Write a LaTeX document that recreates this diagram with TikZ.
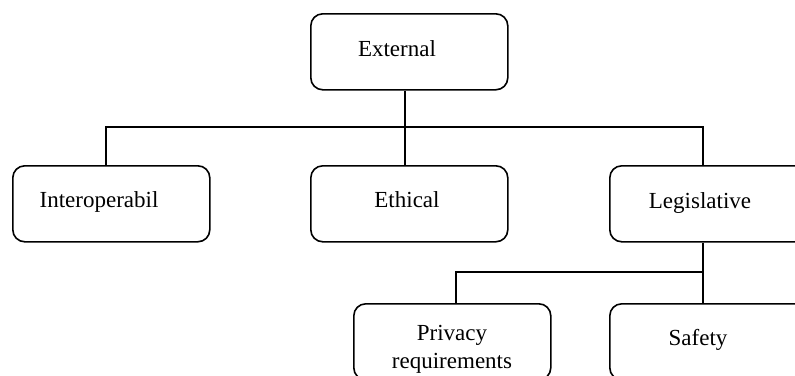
\documentclass[tikz,border=0pt]{standalone}
\usepackage{fontspec}
\setmainfont{Liberation Serif}
\begin{document}
\begin{tikzpicture}[x=1pt,y=-1pt,
  box/.style={draw, line width=1.6pt, rounded corners=12pt, minimum width=197pt, minimum height=76pt, inner sep=0pt, anchor=north west},
  lbl/.style={font=\fontsize{23}{28}\selectfont, anchor=base, inner sep=0pt},
  conn/.style={line width=1.6pt}]
\useasboundingbox (0,0) rectangle (795,375);
\clip (0,0) rectangle (795,375);
% boxes
\node[box] (ext) at (310,13) {};
\node[box] (int) at (12,165) {};
\node[box] (eth) at (310,165) {};
\node[box] (leg) at (609,165) {};
\node[box] (pri) at (353,303) {};
\node[box] (saf) at (609,303) {};
% texts
\node[lbl] (extt) at (397,56) {External};
\node[lbl] (intt) at (99,207) {Interoperabil};
\node[lbl] (etht) at (407,207) {Ethical};
\node[lbl] (legt) at (700,208) {Legislative};
\node[lbl] (prit1) at (452,340) {Privacy};
\node[lbl] (prit2) at (452,368) {requirements};
\node[lbl] (saft) at (698,345) {Safety};
% connector points
\coordinate (bus) at (0,127);
\coordinate (bus2) at (0,272);
\coordinate (ea) at (405,0);
\coordinate (ia) at (106,0);
\coordinate (la) at (703,0);
\coordinate (pa) at (456,0);
\draw[conn] (ext.south -| ea) -- (bus -| ea);
\draw[conn] (int.north -| ia) -- (bus -| ia) -- (bus -| la) -- (leg.north -| la);
\draw[conn] (eth.north -| ea) -- (bus -| ea);
\draw[conn] (leg.south -| la) -- (saf.north -| la);
\draw[conn] (bus2 -| la) -- (bus2 -| pa) -- (pri.north -| pa);
\end{tikzpicture}
\end{document}
